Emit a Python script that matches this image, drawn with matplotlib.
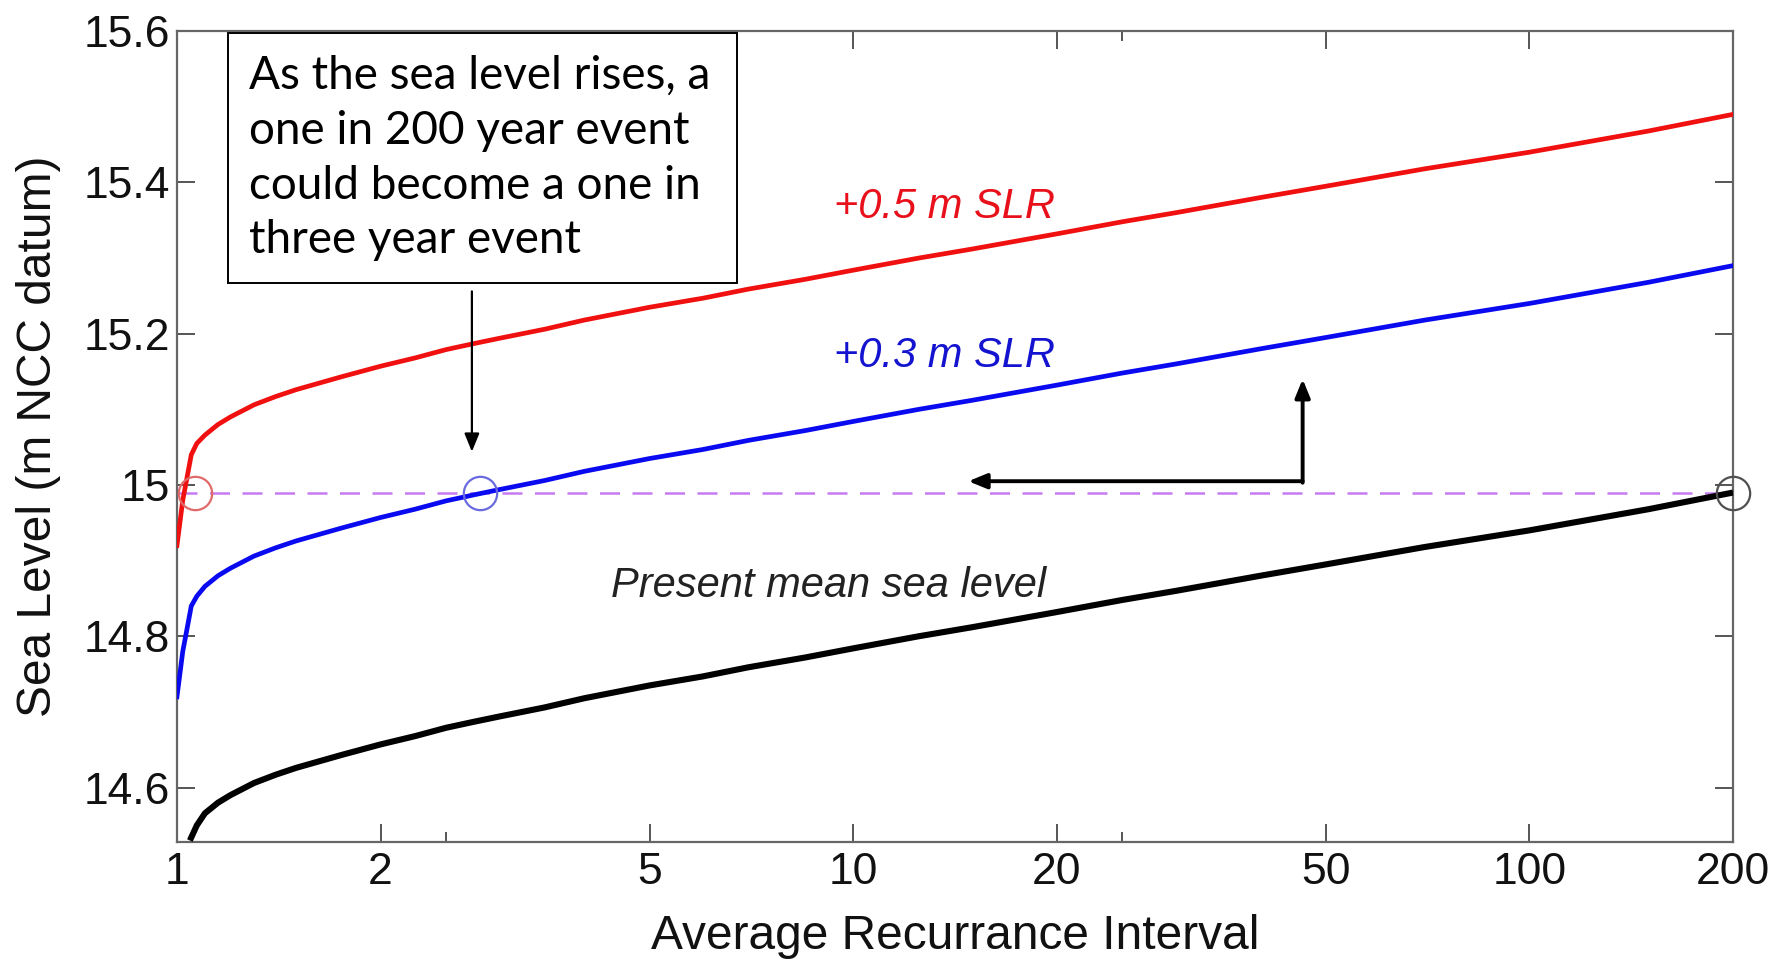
import matplotlib
matplotlib.use("Agg")
import matplotlib.pyplot as plt
from matplotlib.ticker import FixedLocator, NullFormatter, FixedFormatter
from matplotlib.patches import Rectangle

# ---- data ----
present_T = [1.045, 1.07, 1.1, 1.15, 1.2, 1.3, 1.4, 1.5, 1.75, 2.0, 2.25, 2.5, 2.75, 3.0,
             3.5, 4.0, 5.0, 6.0, 7.0, 8.5, 10, 12.5, 15, 20, 25, 30, 40, 50, 70, 100,
             150, 200]
present_level = [14.530, 14.550, 14.566, 14.580, 14.590, 14.606, 14.617, 14.626, 14.643,
                 14.657, 14.668, 14.679, 14.687, 14.694, 14.706, 14.718, 14.735, 14.747,
                 14.759, 14.772, 14.784, 14.800, 14.812, 14.832, 14.848, 14.860, 14.880,
                 14.895, 14.918, 14.940, 14.968, 14.990]

slr_T = [1.0, 1.01, 1.02, 1.03, 1.04, 1.05, 1.07, 1.1, 1.15, 1.2, 1.3, 1.4, 1.5, 1.75,
         2.0, 2.25, 2.5, 2.75, 3.0, 3.5, 4.0, 5.0, 6.0, 7.0, 8.5, 10, 12.5, 15, 20, 25,
         30, 40, 50, 70, 100, 150, 200]
slr03_level = [14.72, 14.75, 14.78, 14.80, 14.82, 14.84, 14.853, 14.866, 14.880, 14.890,
               14.906, 14.917, 14.926, 14.943, 14.957, 14.968, 14.979, 14.987, 14.994,
               15.006, 15.018, 15.035, 15.047, 15.059, 15.072, 15.084, 15.100, 15.112,
               15.132, 15.148, 15.160, 15.180, 15.195, 15.218, 15.240, 15.268, 15.290]
slr05_level = [14.92, 14.95, 14.98, 15.00, 15.02, 15.04, 15.055, 15.066, 15.080, 15.090,
               15.106, 15.117, 15.126, 15.143, 15.157, 15.168, 15.179, 15.187, 15.194,
               15.206, 15.218, 15.235, 15.247, 15.259, 15.272, 15.284, 15.300, 15.312,
               15.332, 15.348, 15.360, 15.380, 15.395, 15.418, 15.440, 15.468, 15.490]

ref_level = 14.99
circle_T = [1.063, 2.81, 200]
circle_colors = ['#e06a6a', '#6a6ae0', '#505050']

x_ticks = [1, 2, 5, 10, 20, 50, 100, 200]
x_ticklabels = ['1', '2', '5', '10', '20', '50', '100', '200']
x_minor = [2.5, 25]
y_ticks = [14.6, 14.8, 15.0, 15.2, 15.4, 15.6]
y_ticklabels = ['14.6', '14.8', '15', '15.2', '15.4', '15.6']

box_text = "As the sea level rises, a\none in 200 year event\ncould become a one in\nthree year event"

# ---- figure ----
fig = plt.figure(figsize=(17.91, 9.59), dpi=100)
ax = fig.add_axes([0.0988, 0.122, 0.8688, 0.8455])
ax.set_xscale('log')
ax.set_xlim(1, 200)
ax.set_ylim(14.528, 15.6)

ax.plot(present_T, present_level, color='black', lw=4.4, solid_capstyle='butt', zorder=3)
ax.plot(slr_T, slr03_level, color='#0a0af0', lw=3.4, zorder=3)
ax.plot(slr_T, slr05_level, color='#f01010', lw=3.4, zorder=3)

ax.axhline(ref_level, color='#c77bf2', lw=1.8, dashes=(8, 5), zorder=2)

for t, c in zip(circle_T, circle_colors):
    ax.plot([t], [ref_level], marker='o', ms=24, mfc='none', mec=c, mew=1.6,
            clip_on=False, zorder=4)

# labels on curves
fnt = 'Liberation Sans'
ax.text(9.37, 15.368, '+0.5 m SLR', color='#e8101a', fontsize=30, style='italic',
        family=fnt, va='center', ha='left')
ax.text(9.37, 15.170, '+0.3 m SLR', color='#1414d0', fontsize=30, style='italic',
        family=fnt, va='center', ha='left')
ax.text(4.385, 14.866, 'Present mean sea level', color='#222222', fontsize=30,
        style='italic', family=fnt, va='center', ha='left')

# arrows
ax.annotate('', xy=(2.73, 15.044), xytext=(2.73, 15.256),
            arrowprops=dict(arrowstyle='-|>,head_length=1.1,head_width=0.45',
                            color='black', lw=1.6, shrinkA=0, shrinkB=0))
ax.annotate('', xy=(46.2, 15.140), xytext=(46.2, 15.003),
            arrowprops=dict(arrowstyle='-|>,head_length=1.1,head_width=0.45',
                            color='black', lw=2.8, shrinkA=0, shrinkB=0))
ax.annotate('', xy=(14.8, 15.005), xytext=(46.2, 15.005),
            arrowprops=dict(arrowstyle='-|>,head_length=1.1,head_width=0.45',
                            color='black', lw=2.8, shrinkA=0, shrinkB=0))

# ticks
ax.xaxis.set_major_locator(FixedLocator(x_ticks))
ax.xaxis.set_major_formatter(FixedFormatter(x_ticklabels))
ax.xaxis.set_minor_locator(FixedLocator(x_minor))
ax.xaxis.set_minor_formatter(NullFormatter())
ax.yaxis.set_major_locator(FixedLocator(y_ticks))
ax.yaxis.set_major_formatter(FixedFormatter(y_ticklabels))
ax.yaxis.set_minor_locator(FixedLocator([]))

ax.tick_params(which='major', direction='in', length=13, width=1.4, color='#555555',
               top=True, right=True, labelsize=32, labelcolor='#111111', pad=7)
ax.tick_params(which='minor', direction='in', length=7, width=1.4, color='#555555',
               top=True, right=True)
for lab in ax.get_xticklabels() + ax.get_yticklabels():
    lab.set_family(fnt)
ax.tick_params(axis='y', pad=5)

for s in ax.spines.values():
    s.set_color('#666666')
    s.set_linewidth(1.6)

ax.set_xlabel('Average Recurrance Interval', fontsize=34.5, family=fnt, color='#111111',
              labelpad=15)
ax.set_ylabel('Sea Level (m NCC datum)', fontsize=34.5, family=fnt, color='#111111',
              labelpad=16)

# annotation box (figure coordinates)
bx0, by0, bx1, by1 = 0.1273, 0.7049, 0.4115, 0.9656
fig.patches.append(Rectangle((bx0, by0), bx1 - bx0, by1 - by0, transform=fig.transFigure,
                             facecolor='white', edgecolor='black', lw=1.4, zorder=10))
fig.text(0.139, 0.943, box_text, fontsize=33, family='Lato', color='black',
         va='top', ha='left', linespacing=1.38, zorder=11)

fig.savefig('out.png', dpi=100, facecolor='white')
